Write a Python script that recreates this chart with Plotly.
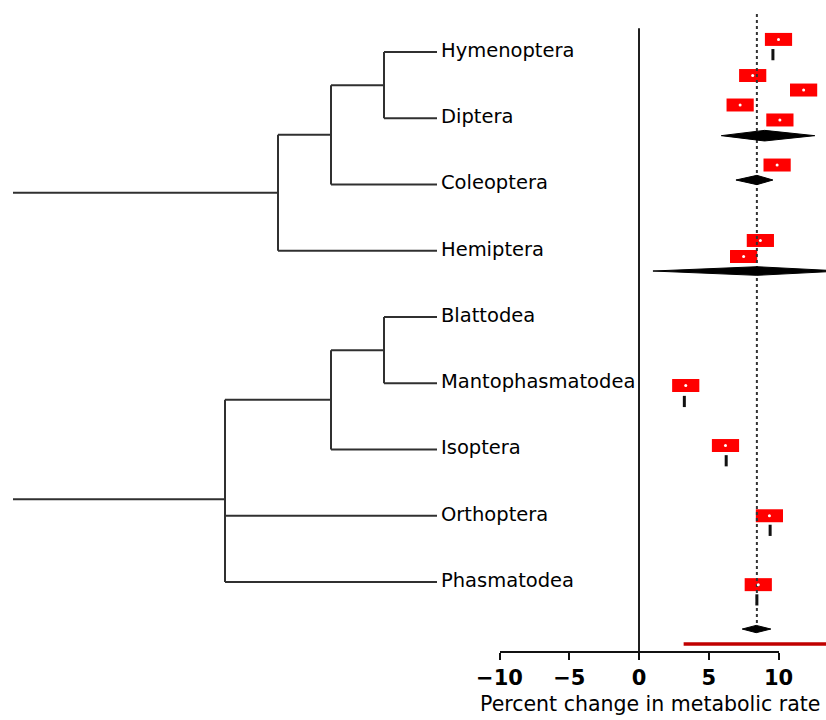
import plotly.graph_objects as go

# ---------------- data ----------------
taxa = ["Hymenoptera", "Diptera", "Coleoptera", "Hemiptera", "Blattodea",
        "Mantophasmatodea", "Isoptera", "Orthoptera", "Phasmatodea"]

# tree topology: (node depth, children); integers index into `taxa`
tree_upper = (5, [(6, [(7, [0, 1]), 2]), 3])
tree_lower = (4, [(6, [(7, [4, 5]), 6]), 7, 8])
tip_depth = 8
root_depth = 0

# individual study effects (percent change in metabolic rate) and row positions
study_effect = [10.0, 8.15, 11.8, 7.25, 10.1, 9.9, 8.7, 7.5, 3.35, 6.2, 9.35, 8.55]
study_row = [-0.19, 0.355, 0.574, 0.80, 1.026, 1.706, 2.845, 3.087, 5.034, 5.94, 7.0, 8.04]

# small marks beneath some studies
mark_effect = [9.6, 3.25, 6.25, 9.4, 8.45]
mark_row = [0.04, 5.275, 6.17, 7.22, 8.27]

# pooled estimates (diamonds)
pooled_est = [9.0, 8.45, 8.45, 8.4]
pooled_lo = [5.9, 6.95, 1.0, 7.4]
pooled_hi = [12.6, 9.6, 14.5, 9.45]
pooled_row = [1.263, 1.932, 3.306, 8.71]

overall_effect = 8.45
overall_span = [-0.574, 8.69]
zero_span = [-0.36, 9.057]
prediction_lo, prediction_hi, prediction_row = 3.2, 14.5, 8.936
axis_row = 9.057

xticks = [-10, -5, 0, 5, 10]
x_title = "Percent change in metabolic rate"

# ---------------- layout constants ----------------
W, H = 826, 720
PX_PER_UNIT = 13.95
ZERO_PX = 639
ROW0_PX, ROW_PX = 52, 66.25
TREE_PX0, TREE_PX = 13, 53.0
LABEL_PAD = 0.075
DIAMOND_HALF = [0.08, 0.07, 0.065, 0.055]
BOX_W, BOX_H = 1.95, 0.196

seg_x, seg_y = [], []


def draw(node):
    if isinstance(node, int):
        return float(node), tip_depth
    depth, children = node
    ys = []
    for ch in children:
        cy, cd = draw(ch)
        ys.append(cy)
        seg_x.extend([depth, cd, None])
        seg_y.extend([cy, cy, None])
    seg_x.extend([depth, depth, None])
    seg_y.extend([min(ys), max(ys), None])
    return sum(ys) / len(ys), depth


for t in (tree_upper, tree_lower):
    y, d = draw(t)
    seg_x.extend([root_depth, d, None])
    seg_y.extend([y, y, None])

fig = go.Figure()

# phylogeny
fig.add_trace(go.Scatter(x=seg_x, y=seg_y, mode="lines",
                         line=dict(color="#303030", width=2),
                         xaxis="x", yaxis="y", hoverinfo="skip", showlegend=False))
fig.add_trace(go.Scatter(x=[tip_depth + LABEL_PAD] * len(taxa), y=list(range(len(taxa))),
                         mode="text", text=taxa, textposition="middle right",
                         textfont=dict(family="DejaVu Sans", size=19.5, color="black"),
                         xaxis="x", yaxis="y", hoverinfo="skip", showlegend=False))

# zero line
fig.add_trace(go.Scatter(x=[0, 0], y=zero_span, mode="lines",
                         line=dict(color="#202020", width=2),
                         xaxis="x3", yaxis="y", hoverinfo="skip", showlegend=False))

# overall effect (dotted)
fig.add_trace(go.Scatter(x=[overall_effect, overall_effect], y=overall_span, mode="lines",
                         line=dict(color="#333333", width=2, dash="dot"),
                         xaxis="x2", yaxis="y", hoverinfo="skip", showlegend=False))

# prediction interval
fig.add_trace(go.Scatter(x=[prediction_lo, prediction_hi], y=[prediction_row] * 2,
                         mode="lines", line=dict(color="#c00000", width=3.5),
                         xaxis="x2", yaxis="y", hoverinfo="skip", showlegend=False))

# diamonds
dx, dy = [], []
for e, lo, hi, r, h in zip(pooled_est, pooled_lo, pooled_hi, pooled_row, DIAMOND_HALF):
    dx.extend([lo, e, hi, e, lo, None])
    dy.extend([r, r - h, r, r + h, r, None])
fig.add_trace(go.Scatter(x=dx, y=dy, mode="lines", fill="toself", fillcolor="black",
                         line=dict(color="black", width=1),
                         xaxis="x2", yaxis="y", hoverinfo="skip", showlegend=False))

# marks beneath boxes
fig.add_trace(go.Scatter(x=mark_effect, y=mark_row, mode="markers",
                         marker=dict(symbol="line-ns", size=8,
                                     line=dict(color="#111111", width=3)),
                         xaxis="x2", yaxis="y", hoverinfo="skip", showlegend=False))

# study boxes
fig.add_trace(go.Bar(orientation="h", y=study_row, x=[BOX_W] * len(study_effect),
                     base=[e - BOX_W / 2 for e in study_effect], width=BOX_H,
                     marker=dict(color="#ff0000", line=dict(width=0)),
                     xaxis="x2", yaxis="y", hoverinfo="skip", showlegend=False))
fig.add_trace(go.Scatter(x=study_effect, y=study_row, mode="markers",
                         marker=dict(symbol="circle", size=3, color="white"),
                         xaxis="x2", yaxis="y", hoverinfo="skip", showlegend=False))

left10 = (ZERO_PX - 10 * PX_PER_UNIT) / W
right10 = (ZERO_PX + 10 * PX_PER_UNIT) / W

fig.update_layout(
    width=W, height=H, autosize=False,
    margin=dict(l=0, r=0, t=0, b=0, pad=0, autoexpand=False),
    paper_bgcolor="white", plot_bgcolor="rgba(0,0,0,0)",
    showlegend=False, barmode="overlay",
    xaxis=dict(domain=[0, 1], range=[-TREE_PX0 / TREE_PX, (W - TREE_PX0) / TREE_PX],
               autorange=False, visible=False, fixedrange=True),
    xaxis2=dict(domain=[left10, 1], range=[-10, (W - ZERO_PX) / PX_PER_UNIT],
                autorange=False, anchor="y", visible=False, fixedrange=True),
    xaxis3=dict(domain=[left10, right10], range=[-10, 10], anchor="free", autorange=False,
                position=1 - (ROW0_PX + axis_row * ROW_PX) / H,
                showline=True, linecolor="#111111", linewidth=2,
                ticks="outside", ticklen=7, tickwidth=2, tickcolor="#111111",
                tickvals=xticks, showgrid=False, zeroline=False,
                tickfont=dict(family="DejaVu Sans", size=21, color="black", weight="bold"),
                fixedrange=True),
    yaxis=dict(domain=[0, 1], autorange=False,
               range=[(H - ROW0_PX) / ROW_PX, -ROW0_PX / ROW_PX],
               visible=False, fixedrange=True),
    annotations=[dict(text=x_title, xref="paper", yref="paper",
                      x=650 / W, y=1 - 704 / H, xanchor="center", yanchor="middle",
                      showarrow=False,
                      font=dict(family="DejaVu Sans", size=20.5, color="black"))],
)

fig.write_html("out.html")
